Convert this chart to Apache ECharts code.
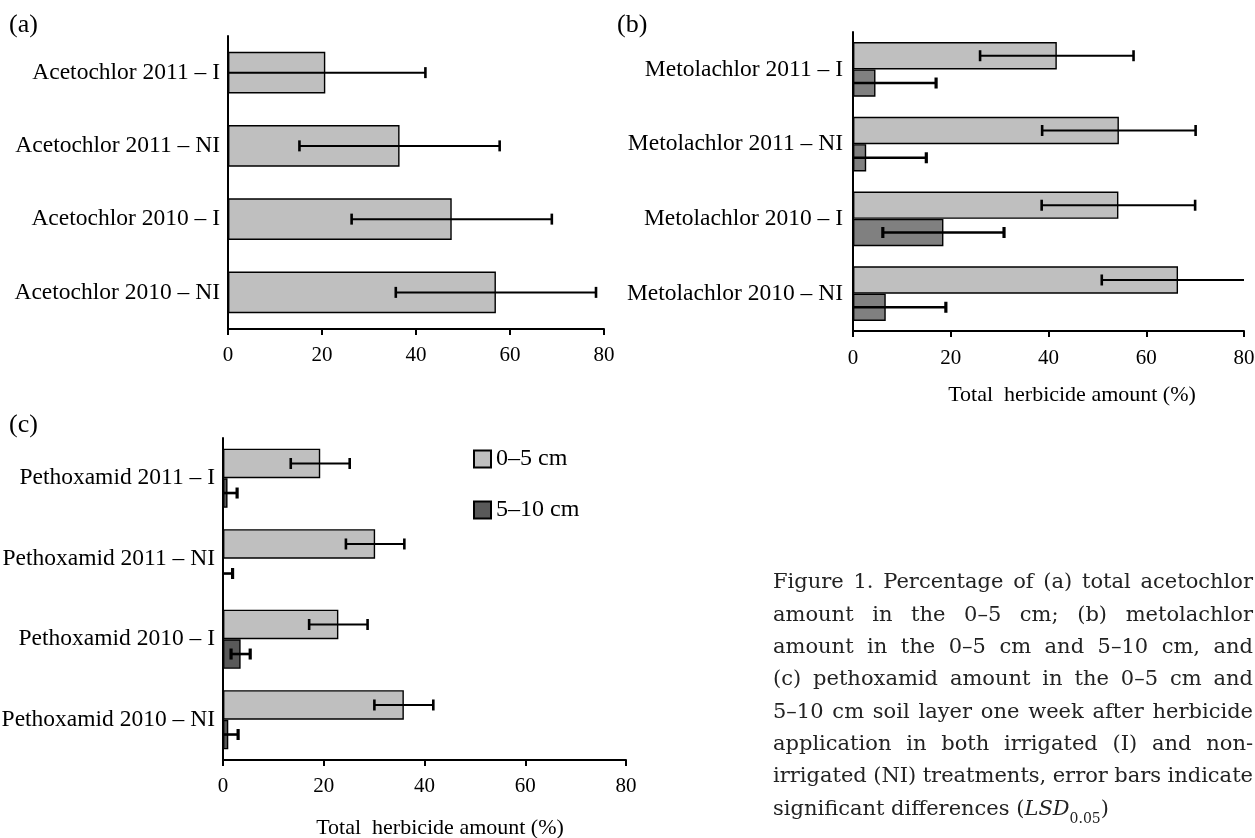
<!DOCTYPE html>
<html><head><meta charset="utf-8">
<script src="https://cdn.jsdelivr.net/npm/echarts@6/dist/echarts.min.js"></script>
<style>html,body{margin:0;padding:0;background:#fff}#c{width:1255px;height:838px}</style>
</head><body><div id="c"></div>
<script>
// ---------- data ----------
const catsA = ['Acetochlor 2011 – I', 'Acetochlor 2011 – NI', 'Acetochlor 2010 – I', 'Acetochlor 2010 – NI'];
const valA = [20.7, 36.5, 47.6, 57.0];
const errA = [21.3, 21.3, 21.3, 21.3];

const catsB = ['Metolachlor 2011 – I', 'Metolachlor 2011 – NI', 'Metolachlor 2010 – I', 'Metolachlor 2010 – NI'];
const topB = [41.7, 54.4, 54.3, 66.5];
const errTopB = [15.7, 15.7, 15.7, 15.6];
const subB = [4.6, 2.7, 18.5, 6.7];
const errSubB = [12.4, 12.3, 12.4, 12.3];

const catsC = ['Pethoxamid 2011 – I', 'Pethoxamid 2011 – NI', 'Pethoxamid 2010 – I', 'Pethoxamid 2010 – NI'];
const topC = [19.3, 30.2, 22.9, 35.9];
const errTopC = [5.85, 5.8, 5.8, 5.85];
const subC = [0.9, 0, 3.5, 1.05];
const errSubC = [1.9, 1.9, 1.9, 1.95];

const xMin = 0, xMax = 80, xStep = 20;
const legendNames = ['0–5 cm', '5–10 cm'];
const axisTitle = 'Total  herbicide amount (%)';
const panelLabels = ['(a)', '(b)', '(c)'];
const captionLines = [
  'Figure 1. Percentage of (a) total acetochlor',
  'amount in the 0–5 cm; (b) metolachlor',
  'amount in the 0–5 cm and 5–10 cm, and',
  '(c) pethoxamid amount in the 0–5 cm and',
  '5–10 cm soil layer one week after herbicide',
  'application in both irrigated (I) and non-',
  'irrigated (NI) treatments, error bars indicate'
];
const captionLast = ['significant differences (', 'LSD', '0.05', ')'];

// ---------- styles ----------
const SERIF = '"Liberation Serif", "Times New Roman", serif';
const LIGHT = '#bfbfbf', DARK_B = '#808080', DARK_C = '#595959';

function errRender(offFrac, lw) {
  return function (params, api) {
    const v = api.value(0), i = api.value(1), e = api.value(2);
    const band = api.size([0, 1])[1];
    const yc = api.coord([0, i])[1] + offFrac * band;
    const lo0 = v - e, hi0 = v + e;
    const lo = Math.max(lo0, xMin), hi = Math.min(hi0, xMax);
    const x1 = api.coord([lo, i])[0], x2 = api.coord([hi, i])[0];
    const ch = 5.5;
    const kids = [{ type: 'line', shape: { x1: x1, y1: yc, x2: x2, y2: yc }, style: { stroke: '#000', lineWidth: lw } }];
    if (lo0 >= xMin) kids.push({ type: 'line', shape: { x1: x1, y1: yc - ch, x2: x1, y2: yc + ch }, style: { stroke: '#000', lineWidth: lw + 0.6 } });
    if (hi0 <= xMax) kids.push({ type: 'line', shape: { x1: x2, y1: yc - ch, x2: x2, y2: yc + ch }, style: { stroke: '#000', lineWidth: lw + 0.6 } });
    return { type: 'group', children: kids };
  };
}
function errSeries(idx, vals, errs, off, lw) {
  return {
    type: 'custom', xAxisIndex: idx, yAxisIndex: idx, z: 5, silent: true,
    renderItem: errRender(off, lw), encode: { x: 0, y: 1 },
    data: vals.map((v, i) => [v, i, errs[i]])
  };
}
function xAx(idx, margin) {
  return {
    type: 'value', gridIndex: idx, min: xMin, max: xMax, interval: xStep,
    axisLine: { show: true, onZero: false, lineStyle: { color: '#000', width: 2 } },
    axisTick: { show: true, length: 6, lineStyle: { color: '#000', width: 2 } },
    axisLabel: { color: '#000', fontFamily: SERIF, fontSize: 21, margin: margin },
    splitLine: { show: false }
  };
}
function yAx(idx, cats, margin, pad) {
  return {
    type: 'category', gridIndex: idx, data: cats, inverse: true,
    axisLine: { show: true, lineStyle: { color: '#000', width: 2 } },
    axisTick: { show: false },
    axisLabel: { color: '#000', fontFamily: SERIF, fontSize: 23.5, margin: margin, padding: pad }
  };
}
const bs = (c) => ({ color: c, borderColor: '#000', borderWidth: 1.4 });

// ---------- caption (justified) ----------
const mctx = document.createElement('canvas').getContext('2d');
function tw(t, font) { mctx.font = font; return mctx.measureText(t).width; }
const capFont = '21px "DejaVu Serif"';
const capLeft = 773, capWidth = 480, capY0 = 583, capStep = 32.3;
const graphics = [];
captionLines.forEach((line, li) => {
  const words = line.split(' ');
  const ws = words.map(w => tw(w, capFont));
  const total = ws.reduce((a, b) => a + b, 0);
  const gap = (capWidth - total) / (words.length - 1);
  let x = capLeft;
  words.forEach((w, k) => {
    graphics.push({ type: 'text', x: x, y: capY0 + li * capStep,
      style: { text: w, font: capFont, fill: '#222', verticalAlign: 'middle', align: 'left' } });
    x += ws[k] + gap;
  });
});
(function () {
  const y = capY0 + 7 * capStep;
  let x = capLeft;
  const f1 = capFont, f2 = 'italic 21px "DejaVu Serif"', f3 = '14px "DejaVu Serif"';
  graphics.push({ type: 'text', x: x, y: y, style: { text: captionLast[0], font: f1, fill: '#222', verticalAlign: 'middle' } });
  x += tw(captionLast[0], f1);
  graphics.push({ type: 'text', x: x, y: y, style: { text: captionLast[1], font: f2, fill: '#222', verticalAlign: 'middle' } });
  x += tw(captionLast[1], f2);
  graphics.push({ type: 'text', x: x, y: y + 10, style: { text: captionLast[2], font: f3, fill: '#222', verticalAlign: 'middle' } });
  x += tw(captionLast[2], f3);
  graphics.push({ type: 'text', x: x, y: y, style: { text: captionLast[3], font: f1, fill: '#222', verticalAlign: 'middle' } });
})();
// panel labels and axis titles
[[9, 25], [617, 25], [9, 425]].forEach((p, i) => {
  graphics.push({ type: 'text', x: p[0], y: p[1], style: { text: panelLabels[i], font: '26px ' + SERIF, fill: '#000', verticalAlign: 'middle' } });
});
graphics.push({ type: 'text', x: 1072, y: 395, style: { text: axisTitle, font: '22px ' + SERIF, fill: '#000', align: 'center', verticalAlign: 'middle' } });
graphics.push({ type: 'text', x: 440, y: 828, style: { text: axisTitle, font: '22px ' + SERIF, fill: '#000', align: 'center', verticalAlign: 'middle' } });

// ---------- option ----------
const option = {
  backgroundColor: '#fff',
  animation: false,
  grid: [
    { left: 228, top: 36, width: 376, height: 293, outerBoundsMode: 'none' },
    { left: 853, top: 32, width: 391, height: 299, outerBoundsMode: 'none' },
    { left: 223, top: 438, width: 403, height: 322, outerBoundsMode: 'none' }
  ],
  xAxis: [xAx(0, 16), xAx(1, 17), xAx(2, 16)],
  yAxis: [yAx(0, catsA, 8, [0, 0, 7, 0]), yAx(1, catsB, 10, 0), yAx(2, catsC, 8, 0)],
  legend: {
    orient: 'vertical', left: 473, top: 447, padding: 0, itemWidth: 17, itemHeight: 17, itemGap: 27,
    icon: 'rect', selectedMode: false, data: legendNames,
    textStyle: { color: '#000', fontFamily: SERIF, fontSize: 24, lineHeight: 17 }
  },
  graphic: { elements: graphics },
  series: [
    { type: 'bar', name: 'Acetochlor', xAxisIndex: 0, yAxisIndex: 0, data: valA, barWidth: '57%', itemStyle: bs(LIGHT) },
    { type: 'bar', name: 'Metolachlor 0–5 cm', xAxisIndex: 1, yAxisIndex: 1, data: topB, barWidth: '36.5%', barGap: '0%', itemStyle: bs(LIGHT) },
    { type: 'bar', name: 'Metolachlor 5–10 cm', xAxisIndex: 1, yAxisIndex: 1, data: subB, barWidth: '36.5%', barGap: '0%', itemStyle: bs(DARK_B) },
    { type: 'bar', name: legendNames[0], xAxisIndex: 2, yAxisIndex: 2, data: topC, barWidth: '36.7%', barGap: '0%', itemStyle: bs(LIGHT) },
    { type: 'bar', name: legendNames[1], xAxisIndex: 2, yAxisIndex: 2, data: subC, barWidth: '36.7%', barGap: '0%', itemStyle: bs(DARK_C) },
    errSeries(0, valA, errA, 0, 2),
    errSeries(1, topB, errTopB, -0.1825, 2),
    errSeries(1, subB, errSubB, 0.1825, 2.6),
    errSeries(2, topC, errTopC, -0.1835, 2),
    errSeries(2, subC, errSubC, 0.1835, 2.6)
  ]
};
const chart = echarts.init(document.getElementById('c'), null, { renderer: 'canvas' });
chart.setOption(option);
</script></body></html>
